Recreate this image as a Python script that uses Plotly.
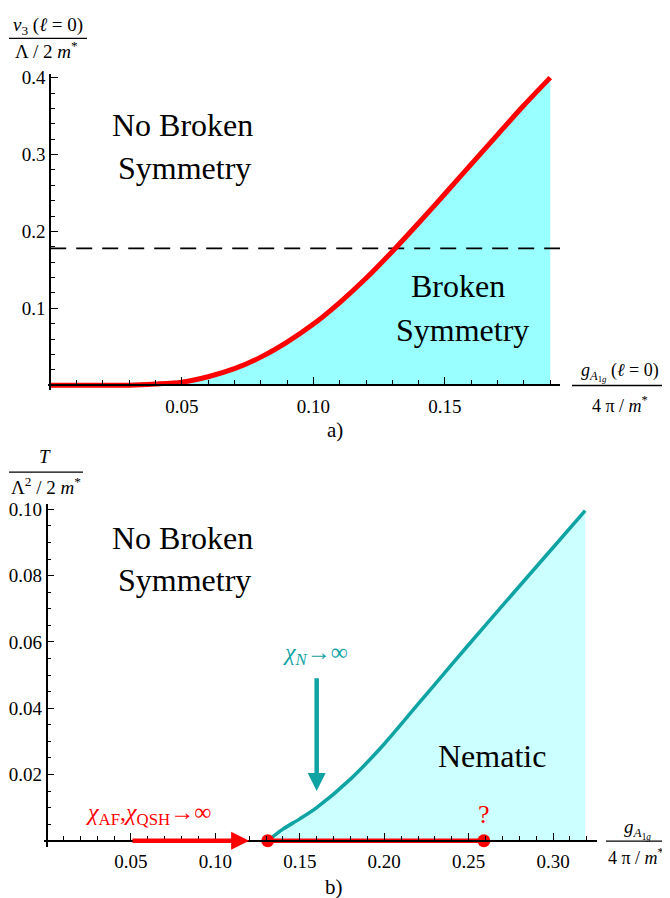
import plotly.graph_objects as go

# ---------------- data ----------------
# panel a)
g_top = [0.0, 0.01, 0.02, 0.03, 0.04, 0.05, 0.06, 0.07, 0.08, 0.09, 0.10,
         0.11, 0.12, 0.13, 0.14, 0.15, 0.16, 0.17, 0.18, 0.19]
v3_top = [0.0, 0.0, 0.0, 0.0, 0.0015, 0.004, 0.011, 0.0215, 0.0365, 0.056, 0.0795,
          0.1075, 0.139, 0.174, 0.211, 0.249, 0.2875, 0.326, 0.364, 0.40]
dash_x = [0.0, 0.195]
dash_y = [0.178, 0.178]
xticks_top = [0.05, 0.10, 0.15]
yticks_top = [0.1, 0.2, 0.3, 0.4]

# panel b)
g_nem = [0.131, 0.14, 0.15, 0.16, 0.18, 0.20, 0.22, 0.24, 0.26, 0.28, 0.30, 0.319]
T_nem = [0.0, 0.0035, 0.0066, 0.0100, 0.0186, 0.0292, 0.0412, 0.0532, 0.0651, 0.0768, 0.0885, 0.0996]
g_red = [0.131, 0.259]
T_red = [0.0, 0.0]
af_arrow_x = [0.05, 0.12]
af_arrow_y = [0.0, 0.0]
n_arrow_x = [0.16, 0.16]
n_arrow_y = [0.0495, 0.015]
xticks_bot = [0.05, 0.10, 0.15, 0.20, 0.25, 0.30]
yticks_bot = [0.02, 0.04, 0.06, 0.08, 0.10]

# ---------------- style ----------------
W, H = 670, 898
OX, OY = 8, 8          # default page body margin
SERIF = "Liberation Serif, Times New Roman, Times, serif"
RED = "#FF0000"
TEAL = "#0FA3A3"
CYAN = "#99FFFF"
LCYAN = "#CCFFFF"


def px(x):
    return (x - OX) / W


def py(y):
    return 1 - (y - OY) / H


fig = go.Figure()

# panel a
fig.add_trace(go.Scatter(x=g_top, y=v3_top, mode="lines", fill="tozeroy",
                         fillcolor=CYAN, line=dict(color="rgba(0,0,0,0)", width=0,
                                                   shape="spline", smoothing=0.8),
                         hoverinfo="skip", xaxis="x", yaxis="y"))
fig.add_trace(go.Scatter(x=dash_x, y=dash_y, mode="lines",
                         line=dict(color="black", width=1.6, dash="16px,10px"),
                         xaxis="x", yaxis="y"))
fig.add_trace(go.Scatter(x=g_top, y=v3_top, mode="lines",
                         line=dict(color=RED, width=5, shape="spline", smoothing=0.8),
                         xaxis="x", yaxis="y"))

# panel b
fig.add_trace(go.Scatter(x=g_nem, y=T_nem, mode="lines", fill="tozeroy",
                         fillcolor=LCYAN,
                         line=dict(color=TEAL, width=3.5, shape="spline", smoothing=0.8),
                         xaxis="x2", yaxis="y2"))
fig.add_trace(go.Scatter(x=g_red, y=T_red, mode="lines+markers",
                         line=dict(color=RED, width=4.5),
                         marker=dict(color=RED, size=13), cliponaxis=False,
                         xaxis="x2", yaxis="y2"))

annotations = []
# arrows
annotations.append(dict(x=af_arrow_x[1], y=af_arrow_y[1], ax=af_arrow_x[0], ay=af_arrow_y[0],
                        xref="x2", yref="y2", axref="x2", ayref="y2", text="",
                        showarrow=True, arrowhead=2, arrowsize=0.8, arrowwidth=4.5,
                        arrowcolor=RED))
annotations.append(dict(x=n_arrow_x[1], y=n_arrow_y[1], ax=n_arrow_x[0], ay=n_arrow_y[0],
                        xref="x2", yref="y2", axref="x2", ayref="y2", text="",
                        showarrow=True, arrowhead=2, arrowsize=0.8, arrowwidth=4.5,
                        arrowcolor=TEAL))


def label(text, x, y, size=32, color="black", xanchor="center"):
    annotations.append(dict(text=text, x=px(x), y=py(y), xref="paper", yref="paper",
                            showarrow=False, xanchor=xanchor, yanchor="middle",
                            font=dict(family=SERIF, size=size, color=color)))


# region labels
label("No Broken", 182, 120)
label("Symmetry", 184, 163)
label("Broken", 458, 282)
label("Symmetry", 462, 326)
label("No Broken", 182, 536)
label("Symmetry", 184, 578)
label("Nematic", 492, 755)
label("<i>χ</i><sub><i>N</i></sub>→∞", 315, 652, size=24, color=TEAL)
label("<i>χ</i><sub>AF</sub>,<i>χ</i><sub>QSH</sub>→∞", 148, 813, size=24, color=RED)
label("?", 484, 814, size=26, color=RED)
label("a)", 335, 427, size=21)
label("b)", 334, 887, size=21)

# axis fraction labels
label("<i>v</i><sub>3</sub> (<i>ℓ</i> = 0)", 48, 20, size=19)
label("Λ / 2 <i>m</i><sup>*</sup>", 46, 44, size=19)
label("<i>T</i>", 45, 453, size=19)
label("Λ<sup>2</sup> / 2 <i>m</i><sup>*</sup>", 46, 483, size=19)
label("<i>g</i><sub><i>A</i><sub>1<i>g</i></sub></sub> (<i>ℓ</i> = 0)", 620, 368, size=18)
label("4 π / <i>m</i><sup>*</sup>", 620, 401, size=18)
label("<i>g</i><sub><i>A</i><sub>1<i>g</i></sub></sub>", 637, 828, size=19)
label("4 π / <i>m</i><sup>*</sup>", 636, 856, size=18)

shapes = []
for (x0, x1, y) in [(9, 87, 32.5), (9, 83, 469.3), (572, 669, 382), (606, 669, 840.7)]:
    shapes.append(dict(type="line", xref="paper", yref="paper",
                       x0=px(x0), x1=px(x1), y0=py(y), y1=py(y),
                       line=dict(color="black", width=1.3)))

# axis geometry (pixel positions)
top_x0, top_x1 = 50.2, 560.0     # x=0 pixel, axis end
top_y0, top_ytop = 381.7, 68.2   # y=0 pixel, axis top
top_xr = [-0.0008, 0.1937]
top_yr = [-0.006, 0.405]
top_xscale = (top_x1 - top_x0) / top_xr[1]
top_yscale = (top_y0 - top_ytop) / top_yr[1]
top_dom_x = [px(top_x0 + top_xr[0] * top_xscale), px(top_x1)]
top_dom_y = [py(top_y0 - top_yr[0] * top_yscale), py(top_ytop)]

bot_x0, bot_x1 = 46.5, 597.0
bot_y0, bot_ytop = 840.3, 501.7
bot_xr = [-0.0012, 0.326]
bot_yr = [-0.0018, 0.1015]
bot_xscale = (bot_x1 - bot_x0) / bot_xr[1]
bot_yscale = (bot_y0 - bot_ytop) / bot_yr[1]
bot_dom_x = [px(bot_x0 + bot_xr[0] * bot_xscale), px(bot_x1)]
bot_dom_y = [py(bot_y0 - bot_yr[0] * bot_yscale), py(bot_ytop)]

tickfont = dict(family=SERIF, size=19, color="black")
common = dict(showgrid=False, zeroline=False, showline=True, linecolor="black",
              linewidth=1.6, ticks="inside", ticklen=7, tickwidth=1.2, tickcolor="black",
              tickfont=tickfont, anchor="free", fixedrange=True)

fig.update_layout(
    width=W, height=H, autosize=False,
    margin=dict(l=0, r=0, t=0, b=0),
    font=dict(family=SERIF, size=19, color="black"),
    paper_bgcolor="white", plot_bgcolor="rgba(0,0,0,0)",
    showlegend=False,
    xaxis=dict(domain=top_dom_x, range=top_xr, position=py(top_y0),
               tickvals=xticks_top, tickformat=".2f", ticklabelstandoff=4,
               minor=dict(dtick=0.01, tick0=0, ticks="inside", ticklen=4, tickcolor="black", tickwidth=1),
               **common),
    yaxis=dict(domain=top_dom_y, range=top_yr, position=px(top_x0),
               tickvals=yticks_top, tickformat=".1f",
               minor=dict(dtick=0.02, tick0=0, ticks="inside", ticklen=4, tickcolor="black", tickwidth=1),
               **common),
    xaxis2=dict(domain=bot_dom_x, range=bot_xr, position=py(bot_y0),
                tickvals=xticks_bot, tickformat=".2f", ticklabelstandoff=4,
                minor=dict(dtick=0.01, tick0=0, ticks="inside", ticklen=4, tickcolor="black", tickwidth=1),
                **common),
    yaxis2=dict(domain=bot_dom_y, range=bot_yr, position=px(bot_x0),
                tickvals=yticks_bot, tickformat=".2f",
                minor=dict(dtick=0.005, tick0=0, ticks="inside", ticklen=4, tickcolor="black", tickwidth=1),
                **common),
    annotations=annotations,
    shapes=shapes,
)

fig.write_html("out.html")
